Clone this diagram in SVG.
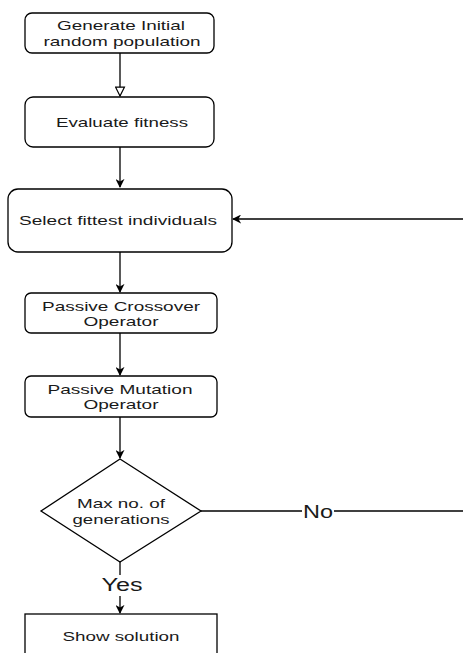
<svg xmlns="http://www.w3.org/2000/svg" width="463" height="653" viewBox="0 0 463 653">
  <style>
    .box { fill: #ffffff; stroke: #000000; stroke-width: 1.3; }
    .lbl { font-family: "Liberation Sans", Arial, sans-serif; font-size: 13px; fill: #1a1a1a; text-anchor: middle; dominant-baseline: central; }
    .big { font-size: 18px; }
    .edge { fill: none; stroke: #000000; stroke-width: 1.3; }
  </style>
  <defs>
    <marker id="solid" viewBox="0 0 10 10" refX="9" refY="5" markerWidth="9" markerHeight="9" markerUnits="userSpaceOnUse" orient="auto">
      <path d="M0,0 L10,5 L0,10 L3,5 Z" fill="#000000"/>
    </marker>
    <marker id="open" viewBox="0 0 10 10" refX="9" refY="5" markerWidth="11" markerHeight="11" markerUnits="userSpaceOnUse" orient="auto">
      <path d="M1,1 L9,5 L1,9 Z" fill="#ffffff" stroke="#000000" stroke-width="1.1"/>
    </marker>
  </defs>
  <rect width="463" height="653" fill="#ffffff"/>

  <g id="connectors">
    <line class="edge" x1="120" y1="53" x2="120" y2="96" marker-end="url(#open)"/>
    <line class="edge" x1="120" y1="147" x2="120" y2="187" marker-end="url(#solid)"/>
    <line class="edge" x1="120" y1="252" x2="120" y2="292" marker-end="url(#solid)"/>
    <line class="edge" x1="120" y1="333" x2="120" y2="375" marker-end="url(#solid)"/>
    <line class="edge" x1="120" y1="417" x2="120" y2="458" marker-end="url(#solid)"/>
    <line class="edge" x1="201" y1="511" x2="302" y2="511"/>
    <line class="edge" x1="334" y1="511" x2="463" y2="511"/>
    <line class="edge" x1="463" y1="219" x2="233" y2="219" marker-end="url(#solid)"/>
    <line class="edge" x1="120" y1="562" x2="120" y2="575"/>
    <line class="edge" x1="120" y1="596" x2="120" y2="613" marker-end="url(#solid)"/>
    <text class="lbl big" x="318" y="512" textLength="30" lengthAdjust="spacingAndGlyphs">No</text>
    <text class="lbl big" x="122" y="585" textLength="41" lengthAdjust="spacingAndGlyphs">Yes</text>
  </g>

  <g id="init">
    <rect class="box" x="25" y="13" width="189" height="40" rx="7"/>
    <text class="lbl" x="121" y="25.5" textLength="128" lengthAdjust="spacingAndGlyphs">Generate Initial</text>
    <text class="lbl" x="122" y="41" textLength="157" lengthAdjust="spacingAndGlyphs">random population</text>
  </g>
  <g id="evaluate">
    <rect class="box" x="25" y="97" width="189" height="50" rx="8"/>
    <text class="lbl" x="122" y="122" textLength="132" lengthAdjust="spacingAndGlyphs">Evaluate fitness</text>
  </g>
  <g id="select">
    <rect class="box" x="8" y="189" width="224" height="63" rx="10"/>
    <text class="lbl" x="118" y="220" textLength="198" lengthAdjust="spacingAndGlyphs">Select fittest individuals</text>
  </g>
  <g id="crossover">
    <rect class="box" x="25" y="293" width="192" height="40" rx="6"/>
    <text class="lbl" x="121" y="306.5" textLength="158" lengthAdjust="spacingAndGlyphs">Passive Crossover</text>
    <text class="lbl" x="121" y="321.5" textLength="75" lengthAdjust="spacingAndGlyphs">Operator</text>
  </g>
  <g id="mutation">
    <rect class="box" x="25" y="376" width="192" height="41" rx="6"/>
    <text class="lbl" x="120" y="389.5" textLength="145" lengthAdjust="spacingAndGlyphs">Passive Mutation</text>
    <text class="lbl" x="121" y="404.5" textLength="75" lengthAdjust="spacingAndGlyphs">Operator</text>
  </g>
  <g id="decision">
    <polygon class="box" points="120,459 201,511 120,562 41,511"/>
    <text class="lbl" x="121" y="503" textLength="88" lengthAdjust="spacingAndGlyphs">Max no. of</text>
    <text class="lbl" x="121" y="519" textLength="97" lengthAdjust="spacingAndGlyphs">generations</text>
  </g>
  <g id="solution">
    <rect class="box" x="25" y="614" width="192" height="50"/>
    <text class="lbl" x="121" y="636" textLength="117" lengthAdjust="spacingAndGlyphs">Show solution</text>
  </g>
</svg>
